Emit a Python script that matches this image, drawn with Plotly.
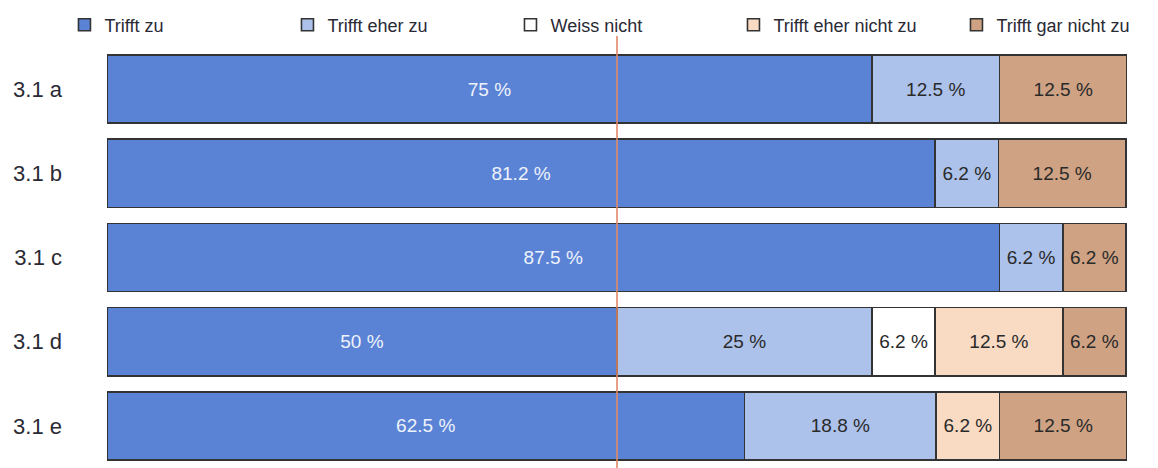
import plotly.graph_objects as go

categories = ["3.1 a", "3.1 b", "3.1 c", "3.1 d", "3.1 e"]
series_names = ["Trifft zu", "Trifft eher zu", "Weiss nicht", "Trifft eher nicht zu", "Trifft gar nicht zu"]
trifft_zu = [75, 81.2, 87.5, 50, 62.5]
trifft_eher_zu = [12.5, 6.2, 6.2, 25, 18.8]
weiss_nicht = [0, 0, 0, 6.2, 0]
trifft_eher_nicht_zu = [0, 0, 0, 12.5, 6.2]
trifft_gar_nicht_zu = [12.5, 12.5, 6.2, 6.2, 12.5]
reference_line = 50

series_values = [trifft_zu, trifft_eher_zu, weiss_nicht, trifft_eher_nicht_zu, trifft_gar_nicht_zu]
colors = ["#5a83d5", "#adc2eb", "#ffffff", "#f9dac3", "#cea283"]
text_colors = ["#eef2fb", "#2a2a2a", "#2a2a2a", "#2a2a2a", "#2a2a2a"]

fig = go.Figure()
for name, vals, col, tcol in zip(series_names, series_values, colors, text_colors):
    xs = [v if v else None for v in vals]
    txt = [f"{v:g} %" if v else "" for v in vals]
    fig.add_trace(go.Bar(
        name=name, y=categories, x=xs, orientation="h",
        marker=dict(color=col, line=dict(color="#333333", width=1.6)),
        text=txt, textposition="inside", insidetextanchor="middle",
        textangle=0, constraintext="none",
        insidetextfont=dict(family="Liberation Sans, Arial", size=19, color=tcol),
        hoverinfo="skip",
    ))

fig.add_shape(type="line", xref="x", yref="paper", x0=reference_line, x1=reference_line,
              y0=-0.05, y1=1.026, line=dict(color="#e08a66", width=1.6), layer="above")

fig.update_layout(
    width=1158, height=468,
    barmode="stack", bargap=0.19,
    margin=dict(l=99, r=39, t=39, b=8, autoexpand=False),
    paper_bgcolor="white", plot_bgcolor="white",
    font=dict(family="Liberation Sans, Arial", color="#2a2a35"),
    showlegend=True,
    legend=dict(orientation="h", x=-0.0417, xanchor="left", y=1.052, yanchor="middle",
                entrywidth=178, entrywidthmode="pixels",
                font=dict(size=18, color="#2a2a35"), traceorder="normal",
                bgcolor="rgba(0,0,0,0)"),
    xaxis=dict(range=[0, 100], visible=False, fixedrange=True),
    yaxis=dict(categoryorder="array", categoryarray=categories, autorange="reversed",
               showgrid=False, zeroline=False, showline=False, ticks="", automargin=False,
               ticklabelstandoff=44, tickfont=dict(size=22, color="#2a2a35")),
)

fig.write_html("out.html")
